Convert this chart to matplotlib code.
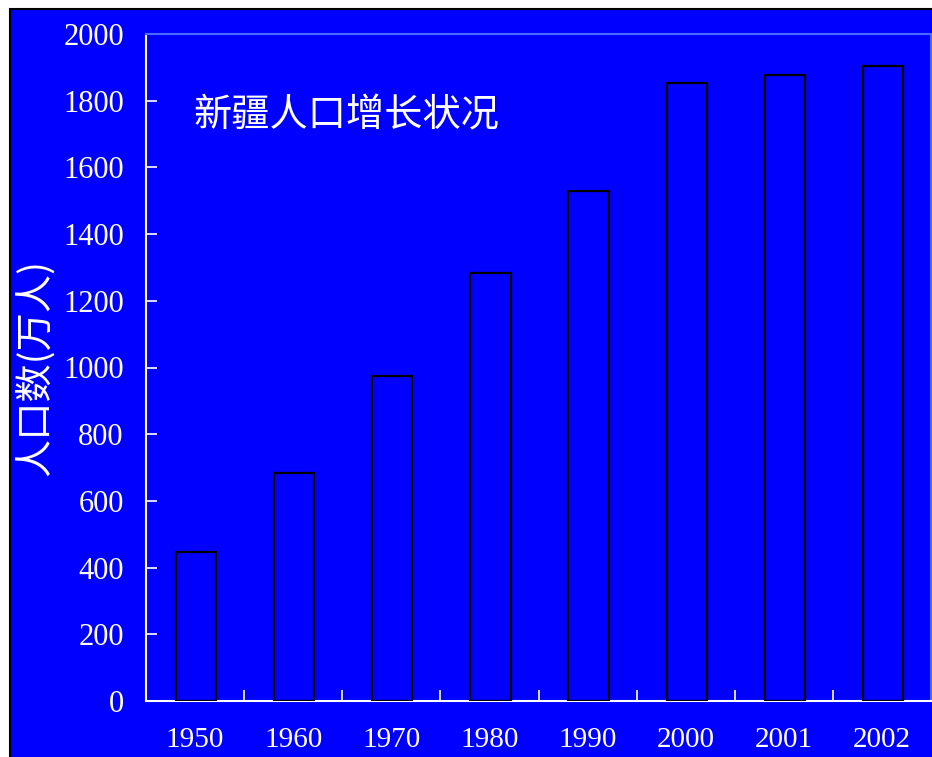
import matplotlib
matplotlib.use('Agg')
import matplotlib.pyplot as plt
from matplotlib.patches import Rectangle

years = ['1950', '1960', '1970', '1980', '1990', '2000', '2001', '2002']
population = [447, 684, 975, 1283, 1529, 1853, 1877, 1904]
y_ticks = [0, 200, 400, 600, 800, 1000, 1200, 1400, 1600, 1800, 2000]

title = '新疆人口增长状况'
ylabel = '人口数(万人)'

blue = '#0000ff'
num_font = 'Liberation Serif'
cjk_font = ['Noto Sans CJK SC', 'DejaVu Sans']

fig = plt.figure(figsize=(9.32, 7.57), dpi=100, facecolor='white')

# blue panel with a thin black frame, kept behind the axes
panel = Rectangle((10 / 932, -0.01), 1.0, 1 - 9 / 757 + 0.01,
                  transform=fig.transFigure, facecolor=blue,
                  edgecolor='black', linewidth=1.5, zorder=-10)
fig.patches.append(panel)

ax = fig.add_axes([146 / 932, 1 - 701 / 757, 785 / 932, 667 / 757])
ax.set_facecolor(blue)
ax.set_zorder(1)

x = list(range(len(years)))
ax.bar([i + 0.01 for i in x], population, width=0.41, color=blue,
       edgecolor='black', linewidth=1.6, zorder=3)

ax.set_xlim(-0.5, len(years) - 0.5)
ax.set_ylim(0, 2000)

ax.set_yticks(y_ticks)
ax.set_yticklabels([str(v) for v in y_ticks], fontfamily=num_font,
                   fontsize=22, color='white')
ax.tick_params(axis='y', direction='in', length=8, width=1.2,
               color='white', pad=16)

ax.set_xticks(x)
ax.set_xticklabels(years, fontfamily=num_font, fontsize=21, color='white')
ax.tick_params(axis='x', which='major', length=0, pad=19)
ax.set_xticks([i + 0.5 for i in x[:-1]], minor=True)
ax.tick_params(axis='x', which='minor', direction='in', length=8,
               width=1.2, color='white')

for side in ['left', 'bottom']:
    ax.spines[side].set_color('white')
    ax.spines[side].set_linewidth(1.5)
for side in ['top', 'right']:
    ax.spines[side].set_color('#4a6bff')
    ax.spines[side].set_linewidth(1.5)

ax.text(0.06, 0.877, title, transform=ax.transAxes, fontsize=27.5,
        family=cjk_font, color='white', va='center', ha='left')

fig.text(35 / 932, 1 - 368 / 757, ylabel, rotation=90, fontsize=27.5,
         family=cjk_font, color='white', va='center', ha='center')

fig.savefig('out.png', dpi=100, facecolor='white')
